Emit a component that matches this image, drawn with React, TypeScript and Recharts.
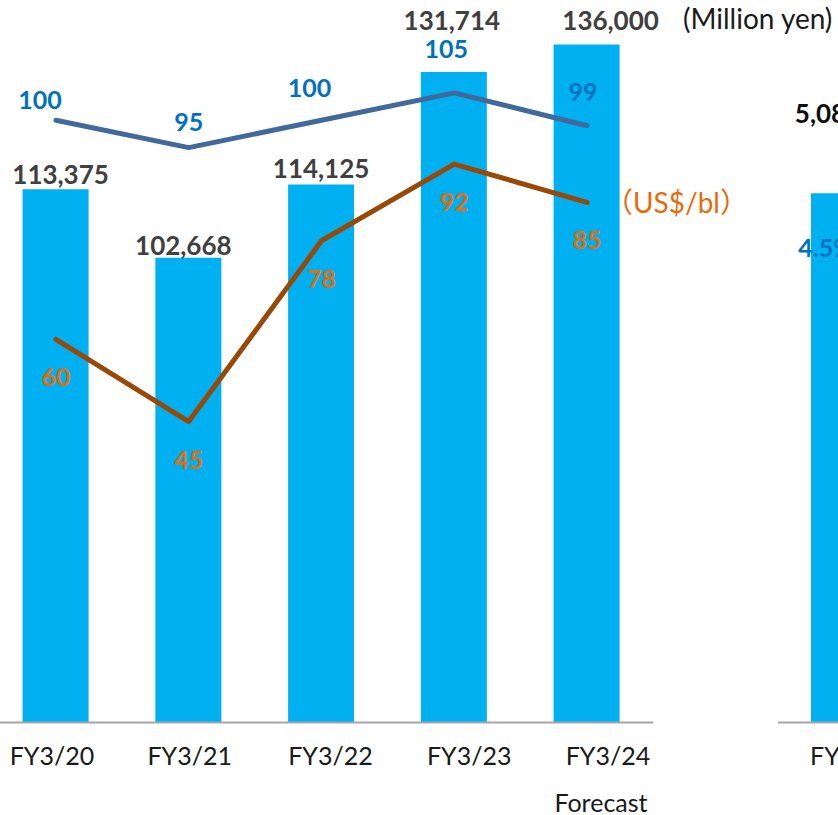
import React from 'react';
import {
  ComposedChart,
  Bar,
  Line,
  XAxis,
  YAxis,
  LabelList } from
'recharts';

// fiscal years
const categories = ['FY3/20', 'FY3/21', 'FY3/22', 'FY3/23', 'FY3/24'];
const categoryNotes = ['', '', '', '', 'Forecast'];
// net sales, million yen
const netSales = [113375, 102668, 114125, 131714, 136000];
// exchange rate, yen per US$
const fxRate = [100, 95, 100, 105, 99];
// crude oil, US$/bl
const crudeOil = [60, 45, 78, 92, 85];

// next panel (only its first year shows at the right edge)
const opCategories = ['FY3/20'];
const opIncome = [5085];
const opMargin = [4.5];

const data = categories.map((fy, i) => ({
  fy,
  note: categoryNotes[i],
  sales: netSales[i],
  fx: fxRate[i],
  oil: crudeOil[i]
}));

const opData = opCategories.map((fy, i) => ({
  fy,
  income: opIncome[i],
  margin: opMargin[i]
}));

const FONT = "Lato, 'Noto Sans CJK JP', sans-serif";
const FS = 25;
const BAR_COLOR = '#00B0F0';
const FX_LINE = '#41699C';
const OIL_LINE = '#984807';
const FX_TEXT = '#0070C0';
const OIL_TEXT = '#E46C0A';
const VALUE_TEXT = '#404040';
const AXIS_TEXT = '#1A1A1A';

// hand placed label nudges, like the original slide
const barLabelOffset = [[5, -5], [-5, -3], [0, -6], [-2, -42], [24, -15]];
const fxLabelOffset = [[-16, -20], [0, -26], [-12, -32], [-8, -44], [-4, -34]];
const tickDx = [-4, 1, 9, 15, 21];
const TICK_BASELINE = 765;

const fmt = (v: number) => v.toLocaleString('en-US');

const CategoryTick = (props: any) => {
  const { x, payload } = props;
  const i = payload.index ?? props.index ?? 0;
  const note = categoryNotes[i];
  return (
    <g>
      <text x={x + tickDx[i]} y={TICK_BASELINE} textAnchor="middle"
      fontFamily={FONT} fontSize={FS} fill={AXIS_TEXT}>
        {payload.value}
      </text>
      {note &&
      <text x={x + tickDx[i] - 7} y={TICK_BASELINE + 47} textAnchor="middle"
      fontFamily={FONT} fontSize={FS} fill={AXIS_TEXT}>
          {note}
        </text>
      }
    </g>);

};

const SalesLabel = (props: any) => {
  const vb = props.viewBox || props;
  const { value, index } = props;
  const [dx, dy] = barLabelOffset[index];
  return (
    <text x={vb.x + vb.width / 2 + dx} y={vb.y + dy} textAnchor="middle"
    fontFamily={FONT} fontSize={26} fontWeight={700} fill={VALUE_TEXT}>
      {fmt(value)}
    </text>);

};

const FxLabel = (props: any) => {
  const { x, y, value, index } = props;
  const [dx, dy] = fxLabelOffset[index];
  return (
    <text x={x + dx} y={y + dy + 9} textAnchor="middle" fontFamily={FONT}
    fontSize={FS} fontWeight={700} fill={FX_TEXT}>
      {value}
    </text>);

};

const OilLabel = (props: any) => {
  const { x, y, value } = props;
  return (
    <text x={x} y={y + 38 + 9} textAnchor="middle" fontFamily={FONT}
    fontSize={FS} fontWeight={700} fill={OIL_TEXT}>
      {value}
    </text>);

};

const OpIncomeLabel = (props: any) => {
  const vb = props.viewBox || props;
  return (
    <text x={vb.x + vb.width / 2 - 16} y={123} textAnchor="middle" fontFamily={FONT}
    fontSize={26} fontWeight={700} fill="#0D0D0D">
      {fmt(props.value)}
    </text>);

};

const OpMarginLabel = (props: any) => {
  const vb = props.viewBox || props;
  return (
    <text x={vb.x + vb.width / 2 - 18} y={vb.y + 55 + 9} textAnchor="middle"
    fontFamily={FONT} fontSize={FS} fontWeight={700} fill={FX_TEXT}>
      {props.value.toFixed(1)}%
    </text>);

};

const OpTick = (props: any) => {
  const { x, payload } = props;
  return (
    <text x={x + 8} y={TICK_BASELINE} textAnchor="middle" fontFamily={FONT}
    fontSize={FS} fill={AXIS_TEXT}>
      {payload.value}
    </text>);

};

export default function App() {
  return (
    <div
      style={{
        position: 'absolute',
        left: 0,
        top: 0,
        width: 838,
        height: 815,
        overflow: 'hidden',
        background: '#fff'
      }}>

      <div style={{ position: 'absolute', left: -40, top: 0 }}>
        <ComposedChart
          width={714}
          height={815}
          data={data}
          margin={{ top: 19, right: 20.65, bottom: 0, left: 29.6 }}
          barCategoryGap="50%">

          <XAxis
            dataKey="fy"
            interval={0}
            height={92.5}
            tickLine={false}
            axisLine={{ stroke: '#A6A6A6', strokeWidth: 2 }}
            tick={<CategoryTick />} />

          <YAxis yAxisId="sales" hide domain={[30000, 140000]} />
          <YAxis yAxisId="price" hide domain={[-9.92, 118.48]} />
          <Bar
            yAxisId="sales"
            dataKey="sales"
            barSize={66}
            fill={BAR_COLOR}
            isAnimationActive={false}>

            <LabelList dataKey="sales" content={<SalesLabel />} />
          </Bar>
          <Line
            yAxisId="price"
            dataKey="fx"
            type="linear"
            stroke={FX_LINE}
            strokeWidth={5}
            strokeLinecap="round"
            strokeLinejoin="round"
            dot={false}
            activeDot={false}
            isAnimationActive={false}>

            <LabelList dataKey="fx" content={<FxLabel />} />
          </Line>
          <Line
            yAxisId="price"
            dataKey="oil"
            type="linear"
            stroke={OIL_LINE}
            strokeWidth={5}
            strokeLinecap="round"
            strokeLinejoin="round"
            dot={false}
            activeDot={false}
            isAnimationActive={false}>

            <LabelList dataKey="oil" content={<OilLabel />} />
          </Line>
        </ComposedChart>
      </div>

      <div style={{ position: 'absolute', left: 778, top: 0 }}>
        <ComposedChart
          width={200}
          height={815}
          data={opData}
          margin={{ top: 19, right: 67.25, bottom: 0, left: 0 }}>

          <XAxis
            dataKey="fy"
            interval={0}
            height={92.5}
            tickLine={false}
            axisLine={{ stroke: '#A6A6A6', strokeWidth: 2 }}
            tick={<OpTick />} />

          <YAxis hide domain={[0, 6760]} />
          <Bar dataKey="income" barSize={66} fill={BAR_COLOR} isAnimationActive={false}>
            <LabelList dataKey="income" content={<OpIncomeLabel />} />
            <LabelList dataKey="margin" content={<OpMarginLabel />} />
          </Bar>
        </ComposedChart>
      </div>

      <svg
        width={838}
        height={815}
        style={{ position: 'absolute', left: 0, top: 0, pointerEvents: 'none' }}>

        <text x={683} y={28.5} fontFamily={FONT} fontSize={28} fill={AXIS_TEXT}>
          (Million yen)
        </text>
        <text x={605} y={213} fontFamily={FONT} fontSize={28} fill={OIL_TEXT}>
          （US$/bl）
        </text>
      </svg>
    </div>);

}
